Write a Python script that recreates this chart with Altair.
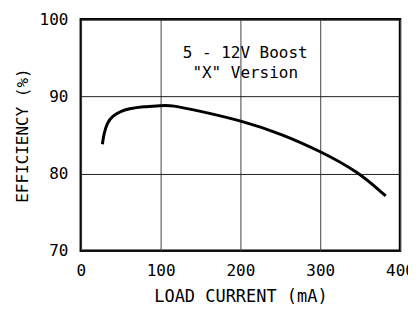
import altair as alt
import pandas as pd

load_ma = [27, 29, 33, 40, 50, 60, 78, 100, 113, 149, 200, 253, 300, 347, 382]
efficiency = [83.8, 85.2, 86.6, 87.5, 88.1, 88.4, 88.7, 88.8, 88.9, 88.1, 86.9, 85.1, 82.9, 80.3, 77.1]

note_x = [206, 206]
note_y = [95.7, 93.1]
note_text = ["5 - 12V Boost", '"X" Version']

FONT = "DejaVu Sans Mono"

df = pd.DataFrame({"x": load_ma, "y": efficiency})
notes = pd.DataFrame({"x": note_x, "y": note_y, "t": note_text})

xs = alt.Scale(domain=[0, 400], nice=False)
ys = alt.Scale(domain=[70, 100], nice=False)

line = alt.Chart(df).mark_line(color="black", strokeWidth=3, interpolate="basis").encode(
    x=alt.X("x:Q", scale=xs, title="LOAD CURRENT (mA)",
            axis=alt.Axis(values=[0, 100, 200, 300, 400], grid=True, ticks=False, domain=False,
                          labelPadding=12, titlePadding=10, labelFontSize=16, titleFontSize=17,
                          labelFont=FONT, titleFont=FONT, titleFontWeight="normal",
                          labelColor="black", titleColor="black", gridColor="#444",
                          gridWidth=1, gridOpacity=1, labelFlush=False)),
    y=alt.Y("y:Q", scale=ys, title="EFFICIENCY (%)",
            axis=alt.Axis(values=[70, 80, 90, 100], grid=True, ticks=False, domain=False,
                          labelPadding=13, titlePadding=9, labelFontSize=16, titleFontSize=16,
                          labelFont=FONT, titleFont=FONT, titleFontWeight="normal",
                          labelColor="black", titleColor="black", gridColor="#222",
                          gridWidth=1, gridOpacity=1, labelFlush=False)),
)

text = alt.Chart(notes).mark_text(font=FONT, fontSize=16, color="black").encode(
    x=alt.X("x:Q", scale=xs), y=alt.Y("y:Q", scale=ys), text="t:N"
)

chart = (line + text).properties(
    width=320, height=232,
    background="white",
    autosize=alt.AutoSizeParams(type="none"),
    padding={"left": 73, "top": 11, "right": 8, "bottom": 54},
).configure_view(stroke="black", strokeWidth=2.5)

chart.save("out.html", embed_options={"renderer": "svg", "actions": False})
